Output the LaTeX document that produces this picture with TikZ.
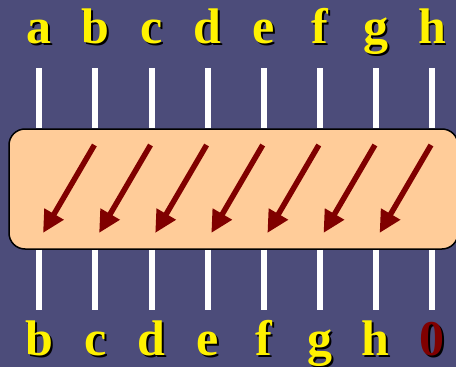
\documentclass[tikz,border=0pt]{standalone}
\usepackage{fontspec}
\setmainfont{Liberation Serif}
\usetikzlibrary{arrows.meta,positioning}
\definecolor{slate}{HTML}{4C4C7A}
\definecolor{peach}{HTML}{FFCC99}
\definecolor{darkred}{HTML}{800000}

\begin{document}
\begin{tikzpicture}[x=1pt,y=1pt]
\tikzstyle{lbl}=[inner sep=0pt, anchor=base, font=\bfseries\fontsize{50}{50}\selectfont]
\tikzstyle{wire}=[white, line width=6pt]
\tikzstyle{shiftarrow}=[darkred, line width=5.5pt, -{Triangle[length=22pt,width=21pt]}]
\fill [slate] (0,0) rectangle (456,-367);
\useasboundingbox (0,0) rectangle (456,-367);
% shifter block
\node [draw=black, line width=1.5pt, fill=peach, rounded corners=16pt,
  minimum width=449pt, minimum height=120pt, inner sep=0pt] (blk) at (233.5,-189) {};
% inputs
\foreach \t [count=\i from 0] in {a,b,c,d,e,f,g,h} {
  \node [lbl, black] (ins\i) at (41+56.1*\i,-45) {\t};
  \node [lbl, yellow] (in\i) at (39.3+56.1*\i,-43) {\t};
  \coordinate (wt\i) at (39.3+56.1*\i,-68);
  \draw [wire] (wt\i) -- (wt\i |- blk.north);
}
% outputs
\foreach \t/\c [count=\i from 0] in {b/yellow,c/yellow,d/yellow,e/yellow,f/yellow,g/yellow,h/yellow,0/darkred} {
  \coordinate (wb\i) at (39.3+56.1*\i,-310);
  \draw [wire] (wb\i |- blk.south) -- (wb\i);
  \node [lbl, black] (outs\i) at (41+56.1*\i,-357) {\t};
  \node [lbl, \c] (out\i) at (39.3+56.1*\i,-355) {\t};
}
% shift arrows
\foreach \i [evaluate=\i as \j using int(\i+1)] in {0,...,6} {
  \coordinate (ah\j) at (38.3+56.1*\j,-145);
  \coordinate (at\i) at (43+56.1*\i,-233);
  \draw [shiftarrow] (ah\j) -- (at\i);
}
\end{tikzpicture}
\end{document}
